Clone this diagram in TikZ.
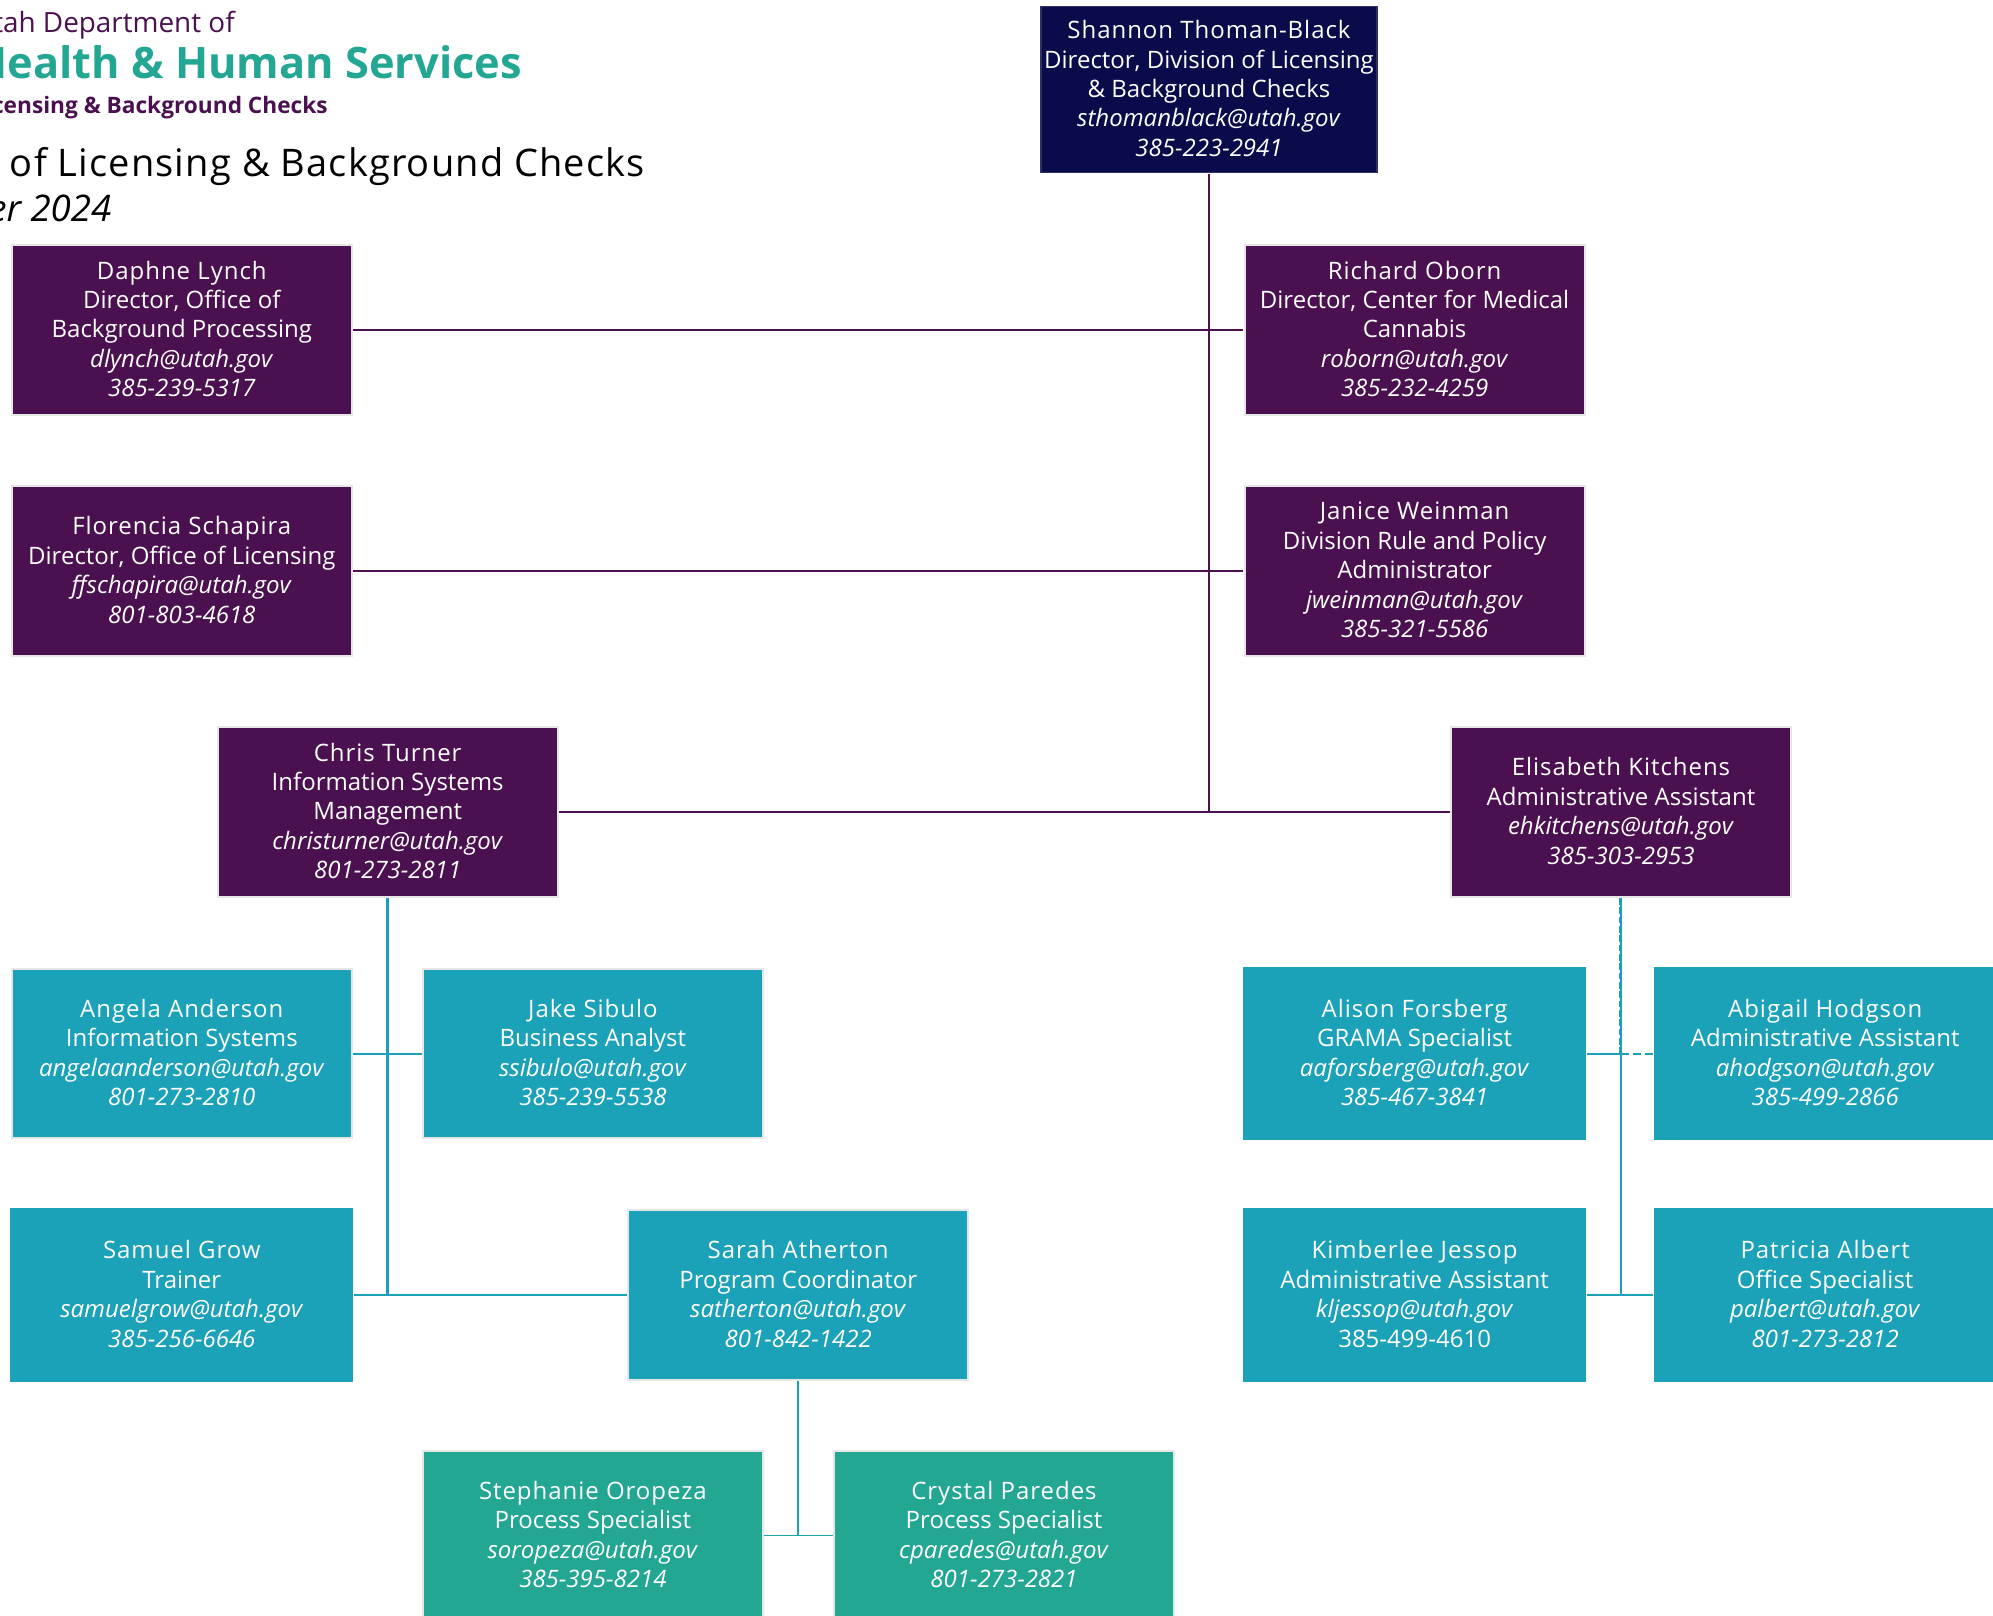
\documentclass[tikz,border=0pt]{standalone}
\usepackage{fontspec}
\setmainfont{Open Sans}
\newfontfamily\namefont[LetterSpace=4]{Open Sans}
\newfontfamily\titlefont[LetterSpace=3]{Open Sans}
\definecolor{navybox}{HTML}{0A0B4A}
\definecolor{purplebox}{HTML}{4A104F}
\definecolor{tealbox}{HTML}{1BA1B8}
\definecolor{greenbox}{HTML}{23A793}
\definecolor{edgegrey}{HTML}{E7E6E6}
\newcommand{\boxtext}[2]{{\namefont #1}\\#2\vadjust{\kern1.6pt}}
\tikzset{
  x=0.75pt,y=-0.75pt,
  card/.style={rectangle,draw=edgegrey,line width=1.5pt,inner sep=0pt,outer sep=1pt,text=white,align=center,
    font=\fontsize{18pt}{22.1pt}\selectfont,minimum width=255pt,minimum height=127pt},
  navycard/.style={card,fill=navybox,draw=navybox!85!white,line width=0.8pt,minimum width=252pt,minimum height=125pt},
  purplecard/.style={card,fill=purplebox},
  tealcard/.style={card,fill=tealbox,draw=tealbox,minimum width=256pt,minimum height=128.5pt},
  tealedge/.style={card,fill=tealbox},
  greencard/.style={card,fill=greenbox,draw=edgegrey},
  purpleline/.style={draw=purplebox,line width=1pt},
  purplethick/.style={draw=purplebox,line width=2.2pt},
  tealline/.style={draw=tealbox,line width=1.2pt},
  tealthick/.style={draw=tealbox,line width=2.2pt},
  greenline/.style={draw=tealbox!80!greenbox,line width=1.1pt},
  logotext/.style={anchor=base east,inner sep=0pt},
}
\begin{document}
\begin{tikzpicture}
\useasboundingbox (0,0) rectangle (1993,1616);
\node[logotext,text=purplebox,font=\fontsize{20.9pt}{24pt}\selectfont] (logoa) at (235,33) {Utah Department of};
\node[logotext,text=greenbox,font=\fontsize{32.5pt}{36pt}\selectfont\bfseries] (logob) at (522,79) {Health \& Human Services};
\node[logotext,text=purplebox,font=\fontsize{17pt}{20pt}\selectfont\bfseries] (logoc) at (328,114) {Licensing \& Background Checks};
\node[logotext,text=black,font=\fontsize{28.5pt}{34pt}\titlefont] (titlea) at (645,177) {Division of Licensing \& Background Checks};
\node[anchor=base west,inner sep=0pt,text=black,font=\fontsize{27.5pt}{32pt}\selectfont\itshape] (titleb) at (-12,222) {er 2024};

\node[navycard] (shannon) at (1209,89.6) {\boxtext{Shannon Thoman-Black}{Director, Division of Licensing\\\& Background Checks\\\textit{sthomanblack@utah.gov}\\\textit{385-223-2941}}};
\node[purplecard] (daphne) at (181.8,330) {\boxtext{Daphne Lynch}{Director, Office of\\Background Processing\\\textit{dlynch@utah.gov}\\\textit{385-239-5317}}};
\node[purplecard] (richard) at (1414.6,330) {\boxtext{Richard Oborn}{Director, Center for Medical\\Cannabis\\\textit{roborn@utah.gov}\\\textit{385-232-4259}}};
\node[purplecard] (florencia) at (181.8,571) {\boxtext{Florencia Schapira}{Director, Office of Licensing\\\textit{ffschapira@utah.gov}\\\textit{801-803-4618}}};
\node[purplecard] (janice) at (1414.6,571) {\boxtext{Janice Weinman}{Division Rule and Policy\\Administrator\\\textit{jweinman@utah.gov}\\\textit{385-321-5586}}};
\node[purplecard] (chris) at (387.7,812) {\boxtext{Chris Turner}{Information Systems\\Management\\\textit{christurner@utah.gov}\\\textit{801-273-2811}}};
\node[purplecard] (elisabeth) at (1621,812) {\boxtext{Elisabeth Kitchens}{Administrative Assistant\\\textit{ehkitchens@utah.gov}\\\textit{385-303-2953}}};
\node[tealedge] (angela) at (181.8,1053.7) {\boxtext{Angela Anderson}{Information Systems\\\textit{angelaanderson@utah.gov}\\\textit{801-273-2810}}};
\node[tealedge] (jake) at (592.9,1053.7) {\boxtext{Jake Sibulo}{Business Analyst\\\textit{ssibulo@utah.gov}\\\textit{385-239-5538}}};
\node[tealcard] (alison) at (1414.6,1053.7) {\boxtext{Alison Forsberg}{GRAMA Specialist\\\textit{aaforsberg@utah.gov}\\\textit{385-467-3841}}};
\node[tealcard] (abigail) at (1825.2,1053.7) {\boxtext{Abigail Hodgson}{Administrative Assistant\\\textit{ahodgson@utah.gov}\\\textit{385-499-2866}}};
\node[tealcard] (samuel) at (181.8,1295) {\boxtext{Samuel Grow}{Trainer\\\textit{samuelgrow@utah.gov}\\\textit{385-256-6646}}};
\node[tealedge] (sarah) at (798.2,1295) {\boxtext{Sarah Atherton}{Program Coordinator\\\textit{satherton@utah.gov}\\\textit{801-842-1422}}};
\node[tealcard] (kimberlee) at (1414.6,1295) {\boxtext{Kimberlee Jessop}{Administrative Assistant\\\textit{kljessop@utah.gov}\\385-499-4610}};
\node[tealcard] (patricia) at (1825.2,1295) {\boxtext{Patricia Albert}{Office Specialist\\\textit{palbert@utah.gov}\\\textit{801-273-2812}}};
\node[greencard] (stephanie) at (592.9,1535.4) {\boxtext{Stephanie Oropeza}{Process Specialist\\\textit{soropeza@utah.gov}\\\textit{385-395-8214}}};
\node[greencard] (crystal) at (1004,1535.4) {\boxtext{Crystal Paredes}{Process Specialist\\\textit{cparedes@utah.gov}\\\textit{801-273-2821}}};

% purple connectors
\coordinate (trunkA) at (daphne.east -| shannon.south);
\coordinate (trunkB) at (chris.east -| shannon.south);
\draw[purplethick] (shannon.south) -- (trunkA);
\draw[purpleline] (trunkA) -- (trunkB);
\draw[purpleline] (daphne.east) -- (trunkA);
\draw[purplethick] (trunkA) -- (richard.west);
\draw[purpleline] (florencia.east) -- (janice.west);
\draw[purpleline] (chris.east) -- (elisabeth.west);
% teal, left
\coordinate (tealL) at (samuel.east -| chris.south);
\draw[tealthick] (chris.south) -- (tealL);
\draw[tealline] (angela.east) -- (jake.west);
\draw[tealthick] (samuel.east) -- (sarah.west);
% teal, right
\coordinate (tealR) at (kimberlee.east -| elisabeth.south);
\coordinate (tealM) at (alison.east -| elisabeth.south);
\draw[tealline] (elisabeth.south) -- (tealR);
\draw[tealline,dash pattern=on 5pt off 2pt] ([xshift=-0.6pt]elisabeth.south) -- ([xshift=-0.6pt]tealM);
\draw[tealline] (alison.east) -- (tealM);
\draw[tealline,dash pattern=on 6pt off 3pt] (tealM) -- (abigail.west);
\draw[tealline] (kimberlee.east) -- (patricia.west);
% green
\coordinate (greenM) at (stephanie.east -| sarah.south);
\draw[greenline] (sarah.south) -- (greenM);
\draw[greenline] (stephanie.east) -- (crystal.west);
\end{tikzpicture}
\end{document}
